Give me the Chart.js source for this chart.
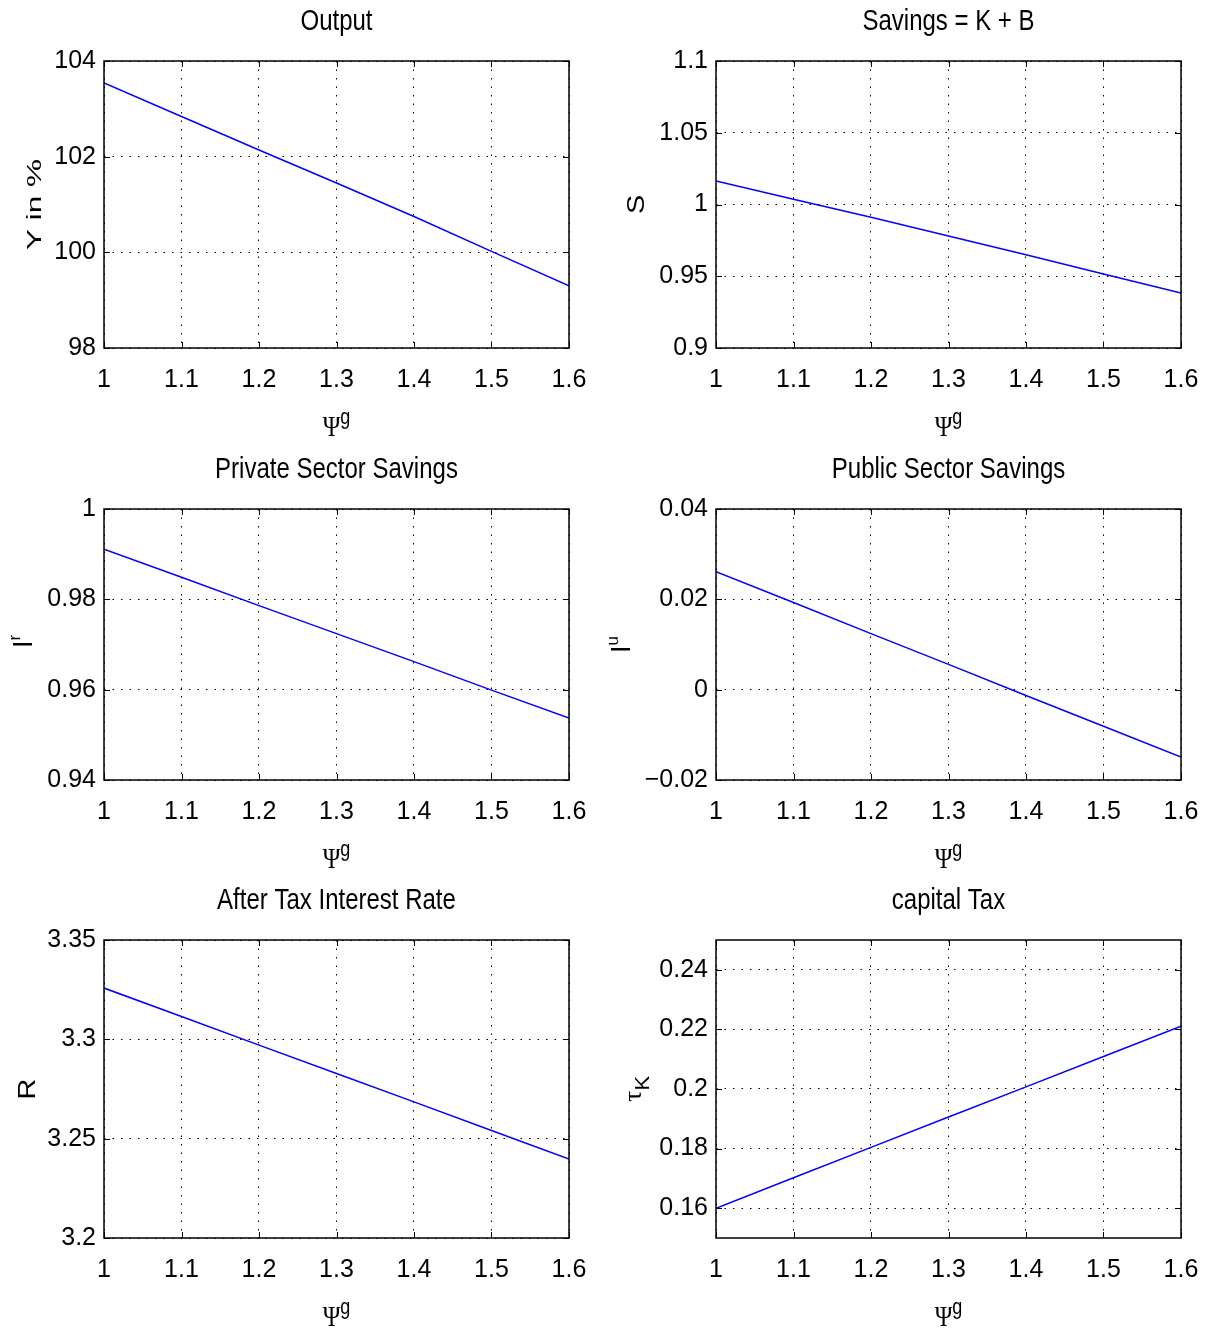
<!DOCTYPE html>
<html>
<head>
<meta charset="utf-8">
<script src="https://cdn.jsdelivr.net/npm/chart.js@4.4.1/dist/chart.umd.min.js"></script>
<style>
  html, body { margin: 0; padding: 0; background: #fff; }
  #wrap { position: relative; width: 1207px; height: 1331px; }
  canvas { position: absolute; }
</style>
</head>
<body>
<div id="wrap">
  <canvas id="c-output"  width="600" height="445" style="left:0;top:0"></canvas>
  <canvas id="c-savings" width="607" height="445" style="left:600px;top:0"></canvas>
  <canvas id="c-private" width="600" height="430" style="left:0;top:445px"></canvas>
  <canvas id="c-public"  width="607" height="430" style="left:600px;top:445px"></canvas>
  <canvas id="c-rate"    width="600" height="456" style="left:0;top:875px"></canvas>
  <canvas id="c-tax"     width="607" height="456" style="left:600px;top:875px"></canvas>
</div>
<script>
// values
const psiValues      = [1, 1.1, 1.2, 1.3, 1.4, 1.5, 1.6];
const outputY        = [103.54, 102.84, 102.14, 101.45, 100.75, 100.02, 99.30];
const savingsS       = [1.0164, 1.0036, 0.9911, 0.978, 0.965, 0.9516, 0.9383];
const privateSavings = [0.9911, 0.9849, 0.9786, 0.9724, 0.9662, 0.9599, 0.9537];
const publicSavings  = [0.0261, 0.0193, 0.0124, 0.0056, -0.0013, -0.0081, -0.0149];
const afterTaxRate   = [3.3258, 3.3115, 3.2971, 3.2828, 3.2685, 3.2541, 3.2398];
const capitalTax     = [0.1600, 0.1702, 0.1804, 0.1906, 0.2007, 0.2109, 0.2211];

// tick labels
const xTicks        = [1, 1.1, 1.2, 1.3, 1.4, 1.5, 1.6];
const outputTicks   = [98, 100, 102, 104];
const savingsTicks  = [0.9, 0.95, 1, 1.05, 1.1];
const privateTicks  = [0.94, 0.96, 0.98, 1];
const publicTicks   = [-0.02, 0, 0.02, 0.04];
const rateTicks     = [3.2, 3.25, 3.3, 3.35];
const taxTicks      = [0.16, 0.18, 0.2, 0.22, 0.24];

const SANS  = "'Liberation Sans', Arial, sans-serif";
const SERIF = "'Liberation Serif', 'DejaVu Serif', serif";

const fmt = v => String(+Number(v).toFixed(3)).replace('-', '\u2212');

// draw a run of text pieces (for super/subscripts) centred on 0,0
function drawRun(ctx, parts, baseline) {
  let total = 0;
  parts.forEach(p => { ctx.font = p.font; p.w = ctx.measureText(p.t).width; total += p.w; });
  let x = -total / 2;
  ctx.textAlign = 'left';
  ctx.textBaseline = 'alphabetic';
  parts.forEach(p => {
    ctx.font = p.font;
    ctx.fillText(p.t, x, baseline + (p.dy || 0));
    x += p.w;
  });
}

// frame, inside ticks, title and axis labels, MATLAB style
function decor(spec) {
  return {
    id: 'decor',
    afterDraw(chart) {
      const { ctx, chartArea: a, scales } = chart;
      ctx.save();
      ctx.strokeStyle = '#000';
      ctx.fillStyle = '#000';

      ctx.lineWidth = 1;
      ctx.beginPath();
      scales.x.ticks.forEach(t => {
        const px = Math.round(scales.x.getPixelForValue(t.value)) + 0.5;
        ctx.moveTo(px, a.bottom); ctx.lineTo(px, a.bottom - 6);
        ctx.moveTo(px, a.top);    ctx.lineTo(px, a.top + 6);
      });
      scales.y.ticks.forEach(t => {
        const py = Math.round(scales.y.getPixelForValue(t.value)) + 0.5;
        ctx.moveTo(a.left, py);  ctx.lineTo(a.left + 6, py);
        ctx.moveTo(a.right, py); ctx.lineTo(a.right - 6, py);
      });
      ctx.stroke();

      ctx.lineWidth = 1.5;
      ctx.strokeRect(a.left, a.top, a.right - a.left, a.bottom - a.top);

      const cx = (a.left + a.right) / 2;

      // title, tall and narrow like the original
      ctx.save();
      ctx.translate(cx, a.top - 39);
      ctx.scale(1, 1.25);
      ctx.font = '24px ' + SANS;
      ctx.textAlign = 'center';
      ctx.textBaseline = 'middle';
      ctx.fillText(spec.title, 0, 0);
      ctx.restore();

      // x label: Psi^g
      ctx.save();
      ctx.translate(cx, a.bottom + 78);
      ctx.scale(1, 1.25);
      drawRun(ctx, [
        { t: '\u03A8', font: '24px ' + SERIF },
        { t: 'g', font: '18px ' + SANS, dy: -10 }
      ], 8);
      ctx.restore();

      // y label, rotated and stretched along its reading direction
      ctx.save();
      ctx.translate(spec.yLabelX, (a.top + a.bottom) / 2 + (spec.yShift || 0));
      ctx.rotate(-Math.PI / 2);
      ctx.scale(spec.yStretch || 1, 1);
      drawRun(ctx, spec.yLabel, spec.yBase || 8);
      ctx.restore();

      ctx.restore();
    }
  };
}

function makeChart(id, spec) {
  new Chart(document.getElementById(id), {
    type: 'line',
    data: {
      datasets: [{
        data: psiValues.map((x, i) => ({ x, y: spec.values[i] })),
        borderColor: '#0000ff',
        borderWidth: 1.5,
        pointRadius: 0,
        tension: 0,
        fill: false
      }]
    },
    options: {
      responsive: false,
      animation: false,
      events: [],
      layout: { autoPadding: false, padding: { top: spec.top, right: spec.right, left: 0, bottom: 0 } },
      plugins: { legend: { display: false }, tooltip: { enabled: false }, title: { display: false } },
      scales: {
        x: {
          type: 'linear',
          min: 1, max: 1.6,
          afterBuildTicks: s => { s.ticks = xTicks.map(v => ({ value: v })); },
          afterFit: s => { s.height = spec.bottom; s.paddingLeft = 0; s.paddingRight = 0; },
          grid: { color: '#000', lineWidth: 1, drawTicks: false },
          border: { display: false, dash: [1.5, 7] },
          ticks: { font: { family: SANS, size: 25 }, color: '#000', padding: 17, callback: fmt, maxRotation: 0, autoSkip: false }
        },
        y: {
          type: 'linear',
          min: spec.min, max: spec.max,
          afterBuildTicks: s => { s.ticks = spec.ticks.map(v => ({ value: v })); },
          afterFit: s => { s.width = spec.left; s.paddingTop = 0; s.paddingBottom = 0; },
          grid: { color: '#000', lineWidth: 1, drawTicks: false },
          border: { display: false, dash: [1.5, 7] },
          ticks: { font: { family: SANS, size: 25 }, color: '#000', padding: 8, callback: fmt, autoSkip: false }
        }
      }
    },
    plugins: [decor(spec)]
  });
}

const sup = (base, s) => [{ t: base, font: '27px ' + SANS }, { t: s, font: '17px ' + SANS, dy: -12 }];

makeChart('c-output', {
  title: 'Output', values: outputY, min: 98, max: 104, ticks: outputTicks,
  top: 61, bottom: 97, left: 104, right: 31, yLabelX: 33, yStretch: 1.5,
  yLabel: [{ t: 'Y in %', font: '21px ' + SANS }]
});
makeChart('c-savings', {
  title: 'Savings = K + B', values: savingsS, min: 0.9, max: 1.1, ticks: savingsTicks,
  top: 61, bottom: 97, left: 116, right: 26, yLabelX: 36, yStretch: 1.2,
  yLabel: [{ t: 'S', font: '24px ' + SANS }]
});
makeChart('c-private', {
  title: 'Private Sector Savings', values: privateSavings, min: 0.94, max: 1, ticks: privateTicks,
  top: 64, bottom: 95, left: 104, right: 31, yLabelX: 24, yShift: -3,
  yLabel: sup('I', 'r')
});
makeChart('c-public', {
  title: 'Public Sector Savings', values: publicSavings, min: -0.02, max: 0.04, ticks: publicTicks,
  top: 64, bottom: 95, left: 116, right: 26, yLabelX: 22,
  yLabel: sup('I', 'u')
});
makeChart('c-rate', {
  title: 'After Tax Interest Rate', values: afterTaxRate, min: 3.2, max: 3.35, ticks: rateTicks,
  top: 65, bottom: 93, left: 104, right: 31, yLabelX: 27, yStretch: 1.2,
  yLabel: [{ t: 'R', font: '24px ' + SANS }]
});
makeChart('c-tax', {
  title: 'capital Tax', values: capitalTax, min: 0.15, max: 0.25, ticks: taxTicks,
  top: 65, bottom: 93, left: 116, right: 26, yLabelX: 33, yStretch: 1.1,
  yLabel: [{ t: '\u03C4', font: '26px ' + SERIF }, { t: 'K', font: '20px ' + SANS, dy: 8 }]
});
</script>
</body>
</html>
